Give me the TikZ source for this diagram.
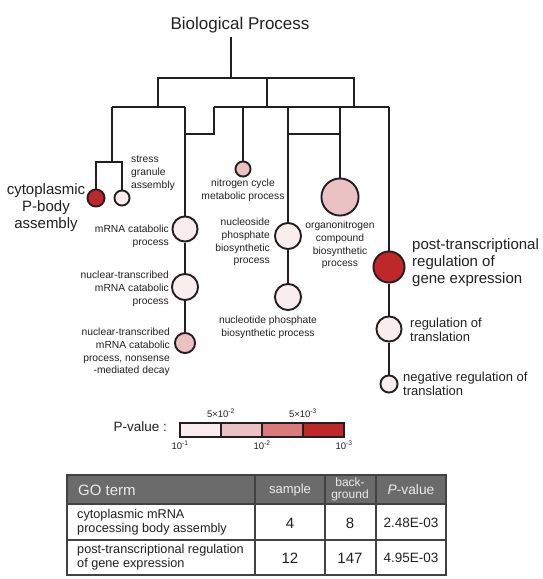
\documentclass[tikz,border=0pt]{standalone}
\usepackage{fontspec}
\setmainfont{Liberation Sans}
\usetikzlibrary{positioning}
\definecolor{ink}{HTML}{231F20}
\definecolor{pvA}{HTML}{F9EDED}
\definecolor{pvB}{HTML}{EBC2C3}
\definecolor{pvC}{HTML}{D97B7D}
\definecolor{pvD}{HTML}{C0272B}
\definecolor{hdrgray}{HTML}{6B6B6B}
\tikzset{
  tree/.style   ={draw=ink, line width=1.9pt},
  term/.style   ={draw=ink, circle, inner sep=0pt, line width=1.9pt},
  termlo/.style ={term, fill=pvA},
  termmid/.style={term, fill=pvB},
  termhi/.style ={term, fill=pvD},
  ttl/.style    ={font=\fontsize{17}{20}\selectfont, text=ink, inner sep=0pt},
  biglbl/.style ={font=\fontsize{15}{17}\selectfont, text=ink, inner sep=0pt},
  midlbl/.style ={font=\fontsize{13}{13.8}\selectfont, text=ink, inner sep=0pt,
                  align=left, anchor=west},
  smlbl/.style  ={font=\fontsize{10.3}{12.8}\selectfont, text=ink, inner sep=0pt},
  lgcell/.style ={draw=ink, line width=1.4pt, minimum width=41pt,
                  minimum height=14pt, inner sep=0pt, outer sep=0pt},
  lgtxt/.style  ={font=\fontsize{9.5}{10}\selectfont, text=ink, inner sep=0pt},
  tbl/.style    ={draw=ink!85, line width=1.3pt},
  hdr/.style    ={font=\fontsize{13}{12}\selectfont, text=white!92!black,
                  inner sep=0pt, align=center},
  cell/.style   ={font=\fontsize{12.7}{14.5}\selectfont, text=ink, inner sep=0pt,
                  align=left, anchor=west},
  num/.style    ={font=\fontsize{13.5}{15}\selectfont, text=ink, inner sep=0pt},
}

\begin{document}
\begin{tikzpicture}[x=1pt, y=-1pt]
  \useasboundingbox (0,0) rectangle (543,579);
  \node[ttl] (bp) at (240,25) {Biological Process};
  % GO terms
  \node[termhi, minimum size=17.1pt] (cp) at (96,198) {};
  \node[termlo, minimum size=15.1pt] (sg) at (122,198) {};
  \node[termmid, minimum size=15.1pt] (nc) at (243,169) {};
  \node[termlo, minimum size=25.1pt] (mc) at (185,229) {};
  \node[termlo, minimum size=26.1pt] (nt) at (185,287) {};
  \node[termmid, minimum size=20.1pt] (nmd) at (185,343) {};
  \node[termlo, minimum size=26.1pt] (ns) at (288,236) {};
  \node[termlo, minimum size=26.1pt] (nd) at (288,297) {};
  \node[termmid, minimum size=37.1pt] (on) at (340,197) {};
  \node[termhi, minimum size=31.1pt] (pt) at (389,267) {};
  \node[termlo, minimum size=25.1pt] (rt) at (389,329) {};
  \node[termlo, minimum size=17.1pt] (nr) at (389,384) {};
  % tree
  \coordinate (r0) at (231,78);
  \coordinate (a1) at (158,107);
  \coordinate (a2) at (267,107);
  \coordinate (a3) at (354,107);
  \coordinate (b1) at (112,107);
  \coordinate (b2) at (185,107);
  \coordinate (b3) at (214,107);
  \coordinate (b4) at (389,107);
  \coordinate (c1) at (214,134);
  \coordinate (c2) at (288,134);
  \coordinate (c3) at (112,162);
  \draw[tree] ([yshift=-4pt]bp.south -| r0) -- (r0);
  \draw[tree] (a1) -- (a1 |- r0) -- (a3 |- r0) -- (a3);
  \draw[tree] (a2) -- (a2 |- r0);
  \draw[tree] (b1) -- (b2);
  \draw[tree] (b3) -- (b4);
  \draw[tree] (b3) -- (c1) -- (c1 -| b2);
  \draw[tree] (c2) -- (c2 -| on);
  \draw[tree] (b1) -- (c3);
  \draw[tree] (cp.north) -- (cp |- c3) -- (sg |- c3) -- (sg.north);
  \draw[tree] (mc.north) -- (b2);
  \draw[tree] (mc) -- (nt);
  \draw[tree] (nt) -- (nmd);
  \draw[tree] (nc.north) -- (nc |- b3);
  \draw[tree] (ns.north) -- (ns |- b3);
  \draw[tree] (ns) -- (nd);
  \draw[tree] (on.north) -- (on |- b3);
  \draw[tree] (pt.north) -- (b4);
  \draw[tree] (pt) -- (rt);
  \draw[tree] (rt) -- (nr);
  % labels
  \node[biglbl, align=center] (cplbl) at (46,208) {cytoplasmic\\P-body\\assembly};
  \node[smlbl, align=left, anchor=west] (sglbl) at (131,173) {stress\\granule\\assembly};
  \node[smlbl, align=center] (nclbl) at (243,190) {nitrogen cycle\\metabolic process};
  \node[smlbl, align=right, anchor=east] (mclbl) at (169,236) {mRNA catabolic\\process};
  \node[smlbl, align=right, anchor=east] (ntlbl) at (169,289)
    {nuclear-transcribed\\mRNA catabolic\\process};
  \node[smlbl, align=right, anchor=east] (nmdlbl) at (170,352)
    {nuclear-transcribed\\mRNA catabolic\\process, nonsense\\-mediated decay};
  \node[smlbl, align=right, anchor=east] (nslbl) at (270,242)
    {nucleoside\\phosphate\\biosynthetic\\process};
  \node[smlbl, align=center] (ndlbl) at (268,327) {nucleotide phosphate\\biosynthetic process};
  \node[smlbl, align=center] (onlbl) at (340,245)
    {organonitrogen\\compound\\biosynthetic\\process};
  \node[biglbl, align=left, anchor=west] (ptlbl) at (412,263)
    {post-transcriptional\\regulation of\\gene expression};
  \node[midlbl] (rtlbl) at (410,330) {regulation of\\translation};
  \node[midlbl] (nrlbl) at (403,384) {negative regulation of\\translation};
  % P-value legend
  \node[font=\fontsize{13.5}{15}\selectfont, text=ink, inner sep=0pt, anchor=east]
    (pvlbl) at (167,427) {P-value :};
  \node[lgcell, fill=pvA] (lg1) at (200.5,430) {};
  \node[lgcell, fill=pvB, right=0pt of lg1] (lg2) {};
  \node[lgcell, fill=pvC, right=0pt of lg2] (lg3) {};
  \node[lgcell, fill=pvD, right=0pt of lg3] (lg4) {};
  \node[lgtxt, above=5pt of lg1.north east] (lgu1) {5×10\textsuperscript{-2}};
  \node[lgtxt, above=5pt of lg3.north east] (lgu2) {5×10\textsuperscript{-3}};
  \node[lgtxt, below=4pt of lg1.south west] (lgd1) {10\textsuperscript{-1}};
  \node[lgtxt, below=4pt of lg2.south east] (lgd2) {10\textsuperscript{-2}};
  \node[lgtxt, below=4pt of lg4.south east] (lgd3) {10\textsuperscript{-3}};
  % table
  \fill[hdrgray] (67,475) rectangle (446,504);
  \draw[tbl] (67,475) rectangle (446,575);
  \draw[tbl] (67,504) -- (446,504);
  \draw[tbl] (67,540) -- (446,540);
  \foreach \cx in {255,325,376}
    \draw[tbl] (\cx,475) -- (\cx,575);
  \node[hdr, font=\fontsize{15}{17}\selectfont, anchor=west] (h1) at (78,490) {GO term};
  \node[hdr] (h2) at (290,490) {sample};
  \node[hdr, font=\fontsize{12}{11.5}\selectfont] (h3) at (350,489.5) {back-\\ground};
  \node[hdr, font=\fontsize{13.8}{15}\selectfont] (h4) at (411,490) {\textit{P}-value};
  \node[cell] (t1) at (77,522) {cytoplasmic mRNA\\processing body assembly};
  \node[num, font=\fontsize{15}{16}\selectfont] (s1) at (290,523) {4};
  \node[num, font=\fontsize{15}{16}\selectfont] (g1) at (350,523) {8};
  \node[num] (p1) at (411,523) {2.48E-03};
  \node[cell] (t2) at (77,557) {post-transcriptional regulation\\of gene expression};
  \node[num, font=\fontsize{15}{16}\selectfont] (s2) at (290,558) {12};
  \node[num, font=\fontsize{15}{16}\selectfont] (g2) at (350,558) {147};
  \node[num] (p2) at (411,558) {4.95E-03};
\end{tikzpicture}
\end{document}
